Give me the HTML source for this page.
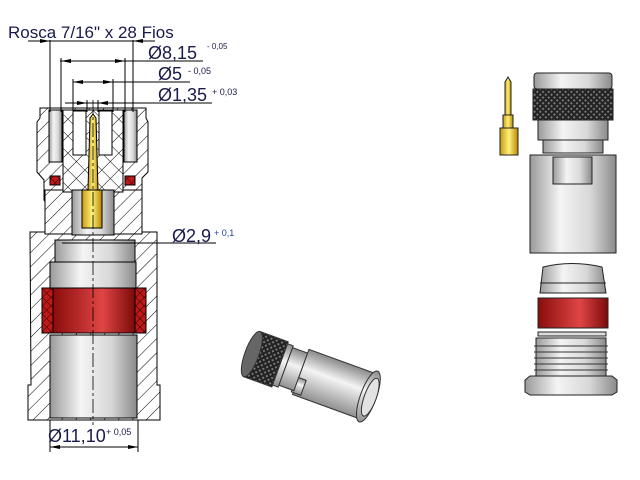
<!DOCTYPE html>
<html><head><meta charset="utf-8"><style>
html,body{margin:0;padding:0;background:#fff;width:640px;height:480px;overflow:hidden}
svg{display:block}
text{font-family:"Liberation Sans",sans-serif;fill:#1a1a4a}
</style></head><body>
<svg width="640" height="480" viewBox="0 0 640 480" xmlns="http://www.w3.org/2000/svg">
<defs>
<pattern id="h" width="10" height="10" patternUnits="userSpaceOnUse" patternTransform="rotate(45)">
<rect width="10" height="10" fill="#fff"/><line x1="0" y1="0" x2="0" y2="10" stroke="#000" stroke-width="1"/></pattern>
<pattern id="x" width="12" height="12" patternUnits="userSpaceOnUse" patternTransform="rotate(45)">
<rect width="12" height="12" fill="#fff"/><line x1="0" y1="0" x2="0" y2="12" stroke="#000"/><line x1="0" y1="0" x2="12" y2="0" stroke="#000"/></pattern>
<pattern id="rx" width="6" height="6" patternUnits="userSpaceOnUse" patternTransform="rotate(45)">
<rect width="6" height="6" fill="#c01818"/><line x1="0" y1="0" x2="0" y2="6" stroke="#000" stroke-width=".8"/><line x1="0" y1="0" x2="6" y2="0" stroke="#000" stroke-width=".8"/></pattern>
<pattern id="kn" width="4" height="4" patternUnits="userSpaceOnUse" patternTransform="rotate(45)">
<rect width="4" height="4" fill="#222"/><rect width="2" height="2" fill="#777"/></pattern>
<linearGradient id="g" x1="0" x2="1"><stop offset="0" stop-color="#9a9a9a"/><stop offset=".35" stop-color="#f4f4f4"/><stop offset=".7" stop-color="#d8d8d8"/><stop offset="1" stop-color="#8a8a8a"/></linearGradient>
<linearGradient id="r" x1="0" x2="1"><stop offset="0" stop-color="#8a0c0c"/><stop offset=".6" stop-color="#e04545"/><stop offset="1" stop-color="#7a0a0a"/></linearGradient>
<linearGradient id="au" x1="0" x2="1"><stop offset="0" stop-color="#c89a10"/><stop offset=".5" stop-color="#fff07a"/><stop offset="1" stop-color="#b88a00"/></linearGradient>
<linearGradient id="gv" x1="0" y1="0" x2="0" y2="1"><stop offset="0" stop-color="#8a8a8a"/><stop offset=".4" stop-color="#f4f4f4"/><stop offset="1" stop-color="#909090"/></linearGradient>
</defs>

<!-- LEFT SECTION DRAWING -->
<g stroke="#000" stroke-width="1">
<path d="M30 232 H157 V385 H160 V420 H28 V385 H31 Z" fill="url(#h)"/>
<path d="M40 108 H146 V118 L148 122 V172 L142 178 V200 L138 206 H48 L44 200 V180 L37 172 V122 L40 118 Z" fill="url(#h)"/>
<rect x="45" y="190" width="97" height="44" fill="url(#h)"/>
<rect x="63" y="110" width="60" height="82" fill="url(#x)"/>
<rect x="49" y="110" width="13" height="52" fill="url(#g)"/>
<rect x="124" y="110" width="13" height="52" fill="url(#g)"/>
<rect x="50" y="176" width="10" height="9" fill="url(#rx)"/>
<rect x="125" y="176" width="10" height="9" fill="url(#rx)"/>
<rect x="73" y="111" width="13" height="44" fill="#fff"/>
<rect x="99" y="111" width="13" height="44" fill="#fff"/>
<rect x="72" y="190" width="42" height="45" fill="url(#g)"/>
<path d="M90 118 L93 114 L96 118 L98 190 H88 Z" fill="url(#au)"/>
<rect x="82" y="190" width="20" height="38" fill="url(#au)"/>
<rect x="55" y="240" width="80" height="22" fill="url(#g)"/>
<rect x="50" y="262" width="86" height="26" fill="url(#g)"/>
<rect x="42" y="288" width="11" height="45" fill="url(#rx)"/>
<rect x="135" y="288" width="11" height="45" fill="url(#rx)"/>
<rect x="53" y="288" width="82" height="45" fill="url(#r)"/>
<rect x="50" y="335" width="87" height="83" fill="url(#g)"/>
</g>
<line x1="93" y1="100" x2="93" y2="425" stroke="#000" stroke-width=".8" stroke-dasharray="14,3,3,3"/>

<g stroke="#000" stroke-width="1" fill="none">
<line x1="28" y1="41" x2="155" y2="41"/><line x1="50" y1="40" x2="50" y2="112"/><line x1="133" y1="40" x2="133" y2="112"/>
<line x1="60" y1="61" x2="203" y2="61"/><line x1="61" y1="58" x2="61" y2="112"/><line x1="125" y1="58" x2="125" y2="112"/>
<line x1="73" y1="82" x2="190" y2="82"/><line x1="73" y1="79" x2="73" y2="112"/><line x1="113" y1="79" x2="113" y2="112"/>
<line x1="65" y1="103" x2="212" y2="103"/><line x1="87" y1="100" x2="87" y2="112"/><line x1="98" y1="100" x2="98" y2="112"/>
<line x1="62" y1="243" x2="216" y2="243"/>
<line x1="50" y1="420" x2="50" y2="452"/><line x1="138" y1="420" x2="138" y2="452"/><line x1="50" y1="447" x2="138" y2="447"/>
</g>
<g fill="#000">
<path d="M50 41 l-10 -2 v4z M133 41 l10 -2 v4z"/>
<path d="M61 61 l10 -2 v4z M125 61 l-10 -2 v4z"/>
<path d="M73 82 l10 -2 v4z M113 82 l-10 -2 v4z"/>
<path d="M87 103 l-10 -2 v4z M98 103 l10 -2 v4z"/>
<path d="M50 447 l10 -2 v4z M138 447 l-10 -2 v4z"/>
</g>
<text x="8" y="38" font-size="17">Rosca 7/16" x 28 Fios</text>
<text x="148" y="59" font-size="18">Ø8,15</text><text x="207" y="49" font-size="8">- 0,05</text>
<text x="158" y="80" font-size="18">Ø5</text><text x="188" y="74" font-size="9">- 0,05</text>
<text x="158" y="101" font-size="18">Ø1,35</text><text x="212" y="95" font-size="9">+ 0,03</text>
<text x="172" y="242" font-size="18">Ø2,9</text><text x="214" y="236" font-size="9" style="fill:#2040a0">+ 0,1</text>
<text x="48" y="442" font-size="18">Ø11,10</text><text x="106" y="435" font-size="9">+ 0,05</text>

<!-- MIDDLE ISO -->
<g transform="translate(312,376) rotate(20)" stroke="#333" stroke-width="1">
<rect x="-12" y="-24" width="72" height="48" fill="url(#gv)"/>
<rect x="-14" y="6" width="10" height="16" fill="url(#gv)"/>
<ellipse cx="60" cy="0" rx="8" ry="27" fill="url(#gv)"/>
<ellipse cx="62" cy="0" rx="6" ry="20" fill="#e2e2e2"/>
<rect x="-28" y="-20" width="16" height="40" fill="url(#gv)"/>
<rect x="-36" y="-22" width="8" height="44" fill="url(#gv)"/>
<rect x="-64" y="-24" width="30" height="48" fill="url(#kn)"/>
<ellipse cx="-64" cy="0" rx="7" ry="24" fill="#666"/>
</g>

<!-- RIGHT EXPLODED -->
<g stroke="#222" stroke-width="1">
<path d="M505 115 V82 L508 77 L511 82 V115 Z" fill="url(#au)"/>
<rect x="503" y="115" width="10" height="13" fill="url(#au)"/>
<rect x="500" y="128" width="18" height="27" fill="url(#au)"/>
<rect x="534" y="73" width="78" height="16" rx="3" fill="url(#g)"/>
<rect x="533" y="89" width="80" height="31" fill="url(#kn)"/>
<rect x="538" y="120" width="70" height="20" fill="url(#g)"/>
<rect x="543" y="140" width="60" height="13" fill="url(#g)"/>
<rect x="530" y="155" width="86" height="98" fill="url(#g)"/>
<rect x="553" y="157" width="39" height="27" fill="url(#g)"/>
<path d="M543 267 Q572 260 602 267 L606 293 H540 Z" fill="url(#g)"/>
<line x1="540" y1="283" x2="606" y2="283"/>
<rect x="538" y="298" width="70" height="30" fill="url(#r)"/>
<rect x="538" y="332" width="68" height="4" fill="#ddd"/>
<rect x="536" y="338" width="70" height="40" fill="url(#g)"/>
<g stroke="#333" fill="none"><path d="M534 346 H608 M534 352 H608 M534 358 H608 M534 364 H608 M534 370 H608"/></g>
<path d="M525 380 L530 376 H612 L617 380 V392 L612 395 H530 L525 392 Z" fill="url(#g)"/>
</g>
</svg>
</body></html>
